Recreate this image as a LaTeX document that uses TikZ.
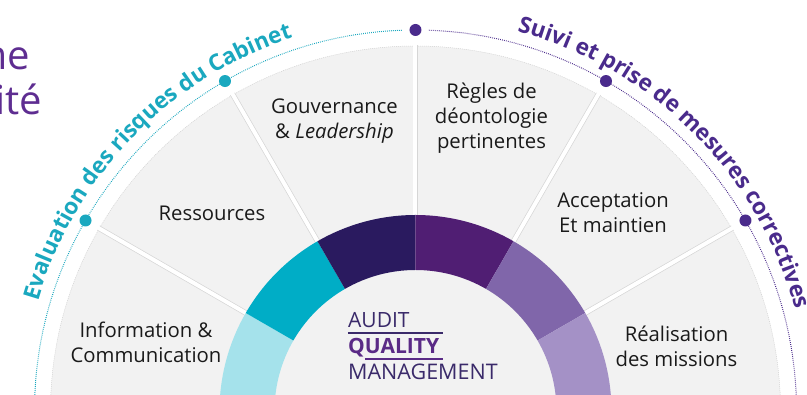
\documentclass[tikz,border=0pt]{standalone}
\usepackage{fontspec}
\setmainfont{Open Sans}
\usetikzlibrary{decorations.text}
\definecolor{sectgrey}{HTML}{F2F2F2}
\definecolor{ringA}{HTML}{A5E2EB}
\definecolor{ringB}{HTML}{00ADC6}
\definecolor{ringC}{HTML}{2A1A5F}
\definecolor{ringD}{HTML}{501E73}
\definecolor{ringE}{HTML}{8066AA}
\definecolor{ringF}{HTML}{A491C6}
\definecolor{cyantxt}{HTML}{1AA8BF}
\definecolor{purptxt}{HTML}{4A2B8C}
\definecolor{titlepurp}{HTML}{5E2D91}
\definecolor{aqmdark}{HTML}{3A2A6A}
\definecolor{aqmpurp}{HTML}{5A2A86}
\definecolor{lbltxt}{HTML}{1A1A1A}
\tikzset{
  lbl/.style={align=center, text=lbltxt, font=\fontsize{20.3}{25}\selectfont, inner sep=0pt},
  dotmark/.style={circle, inner sep=0pt, minimum size=12pt},
  titletxt/.style={text=titlepurp, font=\fontsize{40}{48}\selectfont, inner sep=0pt, anchor=base east},
}
\begin{document}
\begin{tikzpicture}[x=1pt,y=1pt]
\useasboundingbox (-415.5,16) rectangle (391.5,411);
\begin{scope}
\clip (-415.5,16) rectangle (391.5,411);
\fill[white] (-415.5,16) rectangle (391.5,411);
% grey half disc
\fill[sectgrey] (365,0) arc[start angle=0,end angle=180,radius=365] -- cycle;
\draw[black!18, line width=0.5pt, dash pattern=on 1pt off 1pt] (365,0) arc[start angle=0,end angle=180,radius=365];
% dividers
\foreach \a in {30,60,90,120,150}{
  \draw[black!16, line width=5.4pt] (\a:196) -- (\a:366);
  \draw[white, line width=4pt] (\a:190) -- (\a:368);
}
% ring
\foreach \a/\c in {150/ringA,120/ringB,90/ringC,60/ringD,30/ringE,0/ringF}{
  \fill[\c] (\a:196) arc[start angle=\a, delta angle=30, radius=196]
     -- ({\a+30}:141) arc[start angle=\a+30, delta angle=-30, radius=141] -- cycle;
}
% dotted arcs
\draw[cyantxt, line width=1pt, dash pattern=on 0.8pt off 1.2pt] (180:381) arc[start angle=180,end angle=92,radius=381];
\draw[purptxt, line width=1pt, dash pattern=on 0.8pt off 1.2pt] (88:381) arc[start angle=88,end angle=0,radius=381];
\end{scope}
% dots
\node[dotmark, fill=cyantxt] (d180) at (180:381) {};
\node[dotmark, fill=cyantxt] (d150) at (150:381) {};
\node[dotmark, fill=cyantxt] (d120) at (120:381) {};
\node[dotmark, fill=purptxt] (d90) at (90:381) {};
\node[dotmark, fill=purptxt] (d60) at (60:381) {};
\node[dotmark, fill=purptxt] (d30) at (30:381) {};
\node[dotmark, fill=purptxt] (d0) at (0:381) {};
% curved texts
\path[decorate, decoration={text along path, text align=center, text color=cyantxt,
  text={|\fontsize{22.6}{26}\selectfont\bfseries|Evaluation des risques du Cabinet}}]
  (174:393) arc[start angle=174, end angle=98, radius=393];
\path[decorate, decoration={text along path, text align=center, text color=purptxt,
  text={|\fontsize{22.6}{26}\selectfont\bfseries|Suivi et prise de mesures correctives}}]
  (84:393) arc[start angle=84, end angle=6, radius=393];
% labels
\node[lbl] (info) at (-269.5,69) {Information \&\\Communication};
\node[lbl] (res) at (-203.5,198) {Ressources};
\node[lbl] (gouv) at (-81,290) {Gouvernance\\\& \textit{Leadership}};
\node[lbl] (regles) at (76,293) {Règles de\\déontologie\\pertinentes};
\node[lbl] (accept) at (197.5,198) {Acceptation\\Et maintien};
\node[lbl] (real) at (261,65) {Réalisation\\des missions};
% AQM
\node[anchor=base west, inner sep=0pt, text=aqmdark, font=\fontsize{21}{21}\selectfont] (audit) at (-67.5,83) {AUDIT};
\node[anchor=base west, inner sep=0pt, text=aqmpurp, font=\fontsize{21}{21}\selectfont\bfseries] (quality) at (-67.5,57) {QUALITY};
\node[anchor=base west, inner sep=0pt, text=aqmdark, font=\fontsize{21.5}{21.5}\selectfont] (mgmt) at (-67.5,31) {MANAGEMENT};
\coordinate (l1a) at (-67.5,78);
\coordinate (l1b) at (27.5,78);
\coordinate (l2a) at (-50.5,52);
\coordinate (l2b) at (27.5,52);
\draw[aqmdark, line width=1.4pt] (l1a) -- (l1b);
\draw[aqmpurp, line width=1.4pt] (l2a) -- (l2b);
% title fragments
\node[titletxt] (t1) at (-385.5,341) {me};
\node[titletxt] (t2) at (-373.5,296) {ité};
\end{tikzpicture}
\end{document}
